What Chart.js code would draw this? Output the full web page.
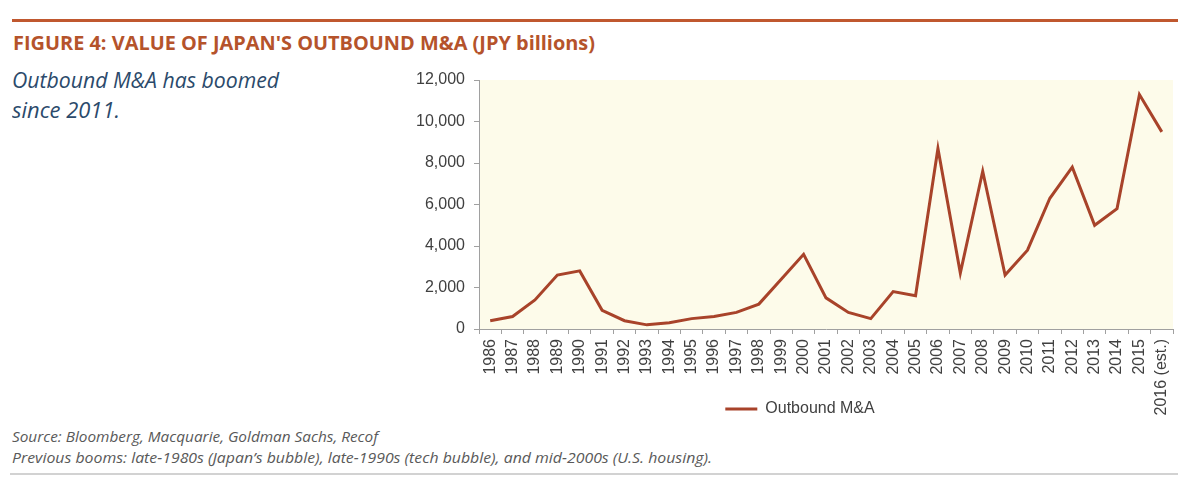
<!DOCTYPE html>
<html>
<head>
<meta charset="utf-8">
<script src="https://cdn.jsdelivr.net/npm/chart.js@4.4.1/dist/chart.umd.min.js"></script>
<style>
  html, body { margin:0; padding:0; background:#fff; }
  body { width:1200px; height:489px; position:relative; overflow:hidden; }
  .rule-top { position:absolute; left:12px; top:19px; width:1166px; height:3px; background:#c0582f; }
  .rule-bot { position:absolute; left:10px; top:473px; width:1168px; height:2px; background:#d2d2d2; }
  .fit { position:absolute; white-space:nowrap; transform-origin:0 0; }
  #title { left:13px; top:32px; font-family:"Open Sans",sans-serif; font-weight:700; font-size:19px; line-height:22px; color:#b5532b; }
  .sub { left:12px; font-family:"Open Sans",sans-serif; font-style:italic; font-size:21px; line-height:26px; color:#2b4a6b; }
  .foot { left:12px; font-family:"Open Sans",sans-serif; font-style:italic; font-size:14px; line-height:18px; color:#595959; }
  #wrap { position:absolute; left:400px; top:60px; width:790px; height:395px; }
</style>
</head>
<body>
<div class="rule-top"></div>
<div id="title" class="fit" data-w="582">FIGURE 4: VALUE OF JAPAN'S OUTBOUND M&amp;A (JPY billions)</div>
<div class="fit sub" style="top:67px" data-w="267">Outbound M&amp;A has boomed</div>
<div class="fit sub" style="top:97px" data-w="108">since 2011.</div>
<div class="fit foot" style="top:428px" data-w="366">Source: Bloomberg, Macquarie, Goldman Sachs, Recof</div>
<div class="fit foot" style="top:449px" data-w="700">Previous booms: late-1980s (Japan’s bubble), late-1990s (tech bubble), and mid-2000s (U.S. housing).</div>
<div class="rule-bot"></div>
<div id="wrap"><canvas id="c"></canvas></div>
<script>
const years = ["1986","1987","1988","1989","1990","1991","1992","1993","1994","1995","1996","1997","1998","1999","2000","2001","2002","2003","2004","2005","2006","2007","2008","2009","2010","2011","2012","2013","2014","2015","2016 (est.)"];
const outboundMA = [400,600,1400,2600,2800,900,400,200,300,500,600,800,1200,2400,3600,1500,800,500,1800,1600,8700,2700,7600,2600,3800,6300,7800,5000,5800,11300,9500];
const yTicks = [0,2000,4000,6000,8000,10000,12000];
const seriesName = "Outbound M&A";

document.querySelectorAll('.fit').forEach(el => {
  const target = +el.dataset.w;
  const w = el.getBoundingClientRect().width;
  if (w > 0) el.style.transform = 'scaleX(' + (target / w) + ')';
});

const lineColor = '#a8432a';
const bgPlugin = {
  id: 'areaBg',
  afterLayout(chart) {
    const lg = chart.legend;
    if (lg) {
      const desiredTop = 391 - 60;
      const dy = lg.top - desiredTop;
      lg.top -= dy; lg.bottom -= dy;
      const dx = 400 - (lg.left + lg.right) / 2;
      lg.left += dx; lg.right += dx;
      if (lg.legendHitBoxes) lg.legendHitBoxes.forEach(h => { h.top -= dy; h.left += dx; });
    }
  },
  beforeDraw(chart) {
    const a = chart.chartArea, ctx = chart.ctx;
    ctx.save();
    ctx.fillStyle = '#fdfbea';
    ctx.fillRect(a.left, a.top, a.right - a.left, a.bottom - a.top);
    ctx.restore();
  }
};

new Chart(document.getElementById('c'), {
  type: 'line',
  data: {
    labels: years,
    datasets: [{
      label: seriesName,
      data: outboundMA,
      borderColor: lineColor,
      backgroundColor: lineColor,
      borderWidth: 3,
      pointRadius: 0,
      tension: 0,
      borderJoinStyle: 'miter'
    }]
  },
  options: {
    responsive: true,
    maintainAspectRatio: false,
    animation: false,
    layout: { padding: { top: 20, right: 17, bottom: 0, left: 0 } },
    plugins: {
      tooltip: { enabled: false },
      legend: {
        position: 'bottom',
        labels: {
          color: '#404040',
          font: { family: '"Liberation Sans", Arial, sans-serif', size: 16 },
          boxWidth: 32,
          boxHeight: 3,
          padding: 10,
          generateLabels(chart) {
            const items = Chart.defaults.plugins.legend.labels.generateLabels(chart);
            items.forEach(it => { it.lineWidth = 0; it.fillStyle = lineColor; it.strokeStyle = lineColor; });
            return items;
          }
        }
      }
    },
    scales: {
      x: {
        type: 'category',
        offset: true,
        grid: { display: true, drawOnChartArea: false, offset: true, tickLength: 5, color: '#a0a0a0' },
        border: { display: true, color: '#a0a0a0', width: 1 },
        ticks: {
          autoSkip: false, maxRotation: 90, minRotation: 90, padding: 5,
          color: '#404040',
          font: { family: '"Liberation Sans", Arial, sans-serif', size: 16 }
        },
        afterFit(scale) { scale.height = 90; }
      },
      y: {
        min: 0, max: 12000,
        afterBuildTicks(scale) { scale.ticks = yTicks.map(v => ({ value: v })); },
        grid: { display: true, drawOnChartArea: false, tickLength: 5, color: '#a0a0a0' },
        border: { display: true, color: '#a0a0a0', width: 1 },
        ticks: {
          padding: 9,
          color: '#404040',
          font: { family: '"Liberation Sans", Arial, sans-serif', size: 16 },
          callback: v => v.toLocaleString('en-US')
        },
        afterFit(scale) { scale.width = 79; }
      }
    }
  },
  plugins: [bgPlugin]
});
</script>
</body>
</html>
